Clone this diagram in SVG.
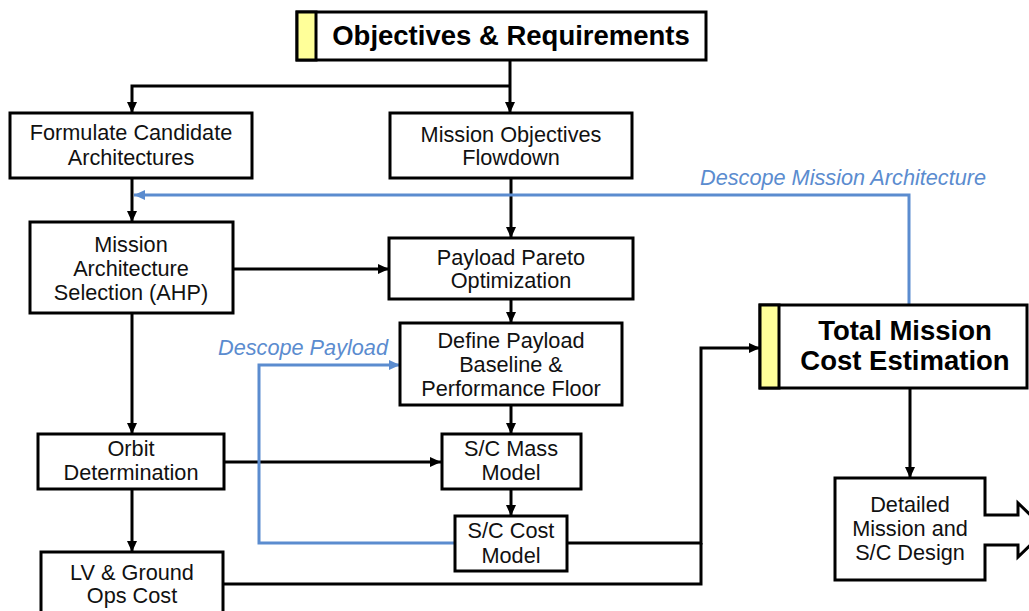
<svg xmlns="http://www.w3.org/2000/svg" width="1029" height="611" viewBox="0 0 1029 611">
<style>
.box{fill:#fff;stroke:#000;stroke-width:3}
.strip{fill:#FFFF99;stroke:#000;stroke-width:3}
.t{font-family:"Liberation Sans",Arial,sans-serif;font-size:21.7px;fill:#111;text-anchor:middle}
.tb{font-family:"Liberation Sans",Arial,sans-serif;font-size:27.5px;font-weight:bold;fill:#000;text-anchor:middle}
.bl{font-family:"Liberation Sans",Arial,sans-serif;font-size:21.7px;font-style:italic;fill:#5B8CCF}
.c{fill:none;stroke:#000;stroke-width:3}
.cb{fill:none;stroke:#5B8CCF;stroke-width:3}
</style>
<defs>
<marker id="ak" markerUnits="userSpaceOnUse" markerWidth="12" markerHeight="10" refX="11" refY="5" orient="auto"><path d="M0,0 L11,5 L0,10 z" fill="#000"/></marker>
<marker id="ab" markerUnits="userSpaceOnUse" markerWidth="12" markerHeight="10" refX="11" refY="5" orient="auto"><path d="M0,0 L11,5 L0,10 z" fill="#5B8CCF"/></marker>
</defs>
<rect width="1029" height="611" fill="#fff"/>
<g id="connectors">
<path class="c" d="M510,60 V113" marker-end="url(#ak)"/>
<path class="c" d="M510,86 H132 V113" marker-end="url(#ak)"/>
<path class="c" d="M132,178 V222" marker-end="url(#ak)"/>
<path class="c" d="M511,178 V238" marker-end="url(#ak)"/>
<path class="c" d="M233,269 H389" marker-end="url(#ak)"/>
<path class="c" d="M511,299 V323" marker-end="url(#ak)"/>
<path class="c" d="M511,405 V434" marker-end="url(#ak)"/>
<path class="c" d="M132,313 V434" marker-end="url(#ak)"/>
<path class="c" d="M224,462 H441" marker-end="url(#ak)"/>
<path class="c" d="M511,489 V516" marker-end="url(#ak)"/>
<path class="c" d="M132,489 V552" marker-end="url(#ak)"/>
<path class="c" d="M567,543 H701 V348 H760" marker-end="url(#ak)"/>
<path class="c" d="M223,584 H701 V543"/>
<path class="c" d="M910,388 V478" marker-end="url(#ak)"/>
<path class="cb" d="M909,305 V195 H134" marker-end="url(#ab)"/>
<path class="cb" d="M455,543 H259 V365 H400" marker-end="url(#ab)"/>
<text class="bl" x="700" y="185">Descope Mission Architecture</text>
<text class="bl" x="218" y="355">Descope Payload</text>
</g>
<g id="objectives">
<rect class="box" x="297" y="12" width="409" height="48"/>
<rect class="strip" x="297" y="12" width="19" height="48"/>
<text class="tb" x="511" y="45">Objectives &amp; Requirements</text>
</g>
<g id="formulate">
<rect class="box" x="10" y="113" width="242" height="65"/>
<text class="t" x="131" y="140">Formulate Candidate</text>
<text class="t" x="131" y="165">Architectures</text>
</g>
<g id="flowdown">
<rect class="box" x="390" y="113" width="242" height="65"/>
<text class="t" x="511" y="142">Mission Objectives</text>
<text class="t" x="511" y="165">Flowdown</text>
</g>
<g id="arch-selection">
<rect class="box" x="30" y="222" width="203" height="91"/>
<text class="t" x="131" y="252">Mission</text>
<text class="t" x="131" y="276">Architecture</text>
<text class="t" x="131" y="300">Selection (AHP)</text>
</g>
<g id="pareto">
<rect class="box" x="389" y="238" width="244" height="61"/>
<text class="t" x="511" y="265">Payload Pareto</text>
<text class="t" x="511" y="288">Optimization</text>
</g>
<g id="define-payload">
<rect class="box" x="400" y="323" width="222" height="82"/>
<text class="t" x="511" y="348">Define Payload</text>
<text class="t" x="511" y="372">Baseline &amp;</text>
<text class="t" x="511" y="396">Performance Floor</text>
</g>
<g id="orbit">
<rect class="box" x="38" y="434" width="186" height="55"/>
<text class="t" x="131" y="456">Orbit</text>
<text class="t" x="131" y="480">Determination</text>
</g>
<g id="mass">
<rect class="box" x="442" y="434" width="139" height="55"/>
<text class="t" x="511" y="456">S/C Mass</text>
<text class="t" x="511" y="480">Model</text>
</g>
<g id="cost">
<rect class="box" x="455" y="516" width="112" height="55"/>
<text class="t" x="511" y="538">S/C Cost</text>
<text class="t" x="511" y="563">Model</text>
</g>
<g id="lv">
<rect class="box" x="41" y="552" width="182" height="70"/>
<text class="t" x="132" y="580">LV &amp; Ground</text>
<text class="t" x="132" y="603">Ops Cost</text>
</g>
<g id="total">
<rect class="box" x="760" y="305" width="267" height="83"/>
<rect class="strip" x="760" y="305" width="19" height="83"/>
<text class="tb" x="905" y="340">Total Mission</text>
<text class="tb" x="905" y="370">Cost Estimation</text>
</g>
<g id="detailed">
<path class="box" d="M835,478 H985 V515 H1018 V503 L1046,530 L1018,557 V545 H985 V580 H835 Z"/>
<text class="t" x="910" y="512">Detailed</text>
<text class="t" x="910" y="536">Mission and</text>
<text class="t" x="910" y="560">S/C Design</text>
</g>
</svg>
